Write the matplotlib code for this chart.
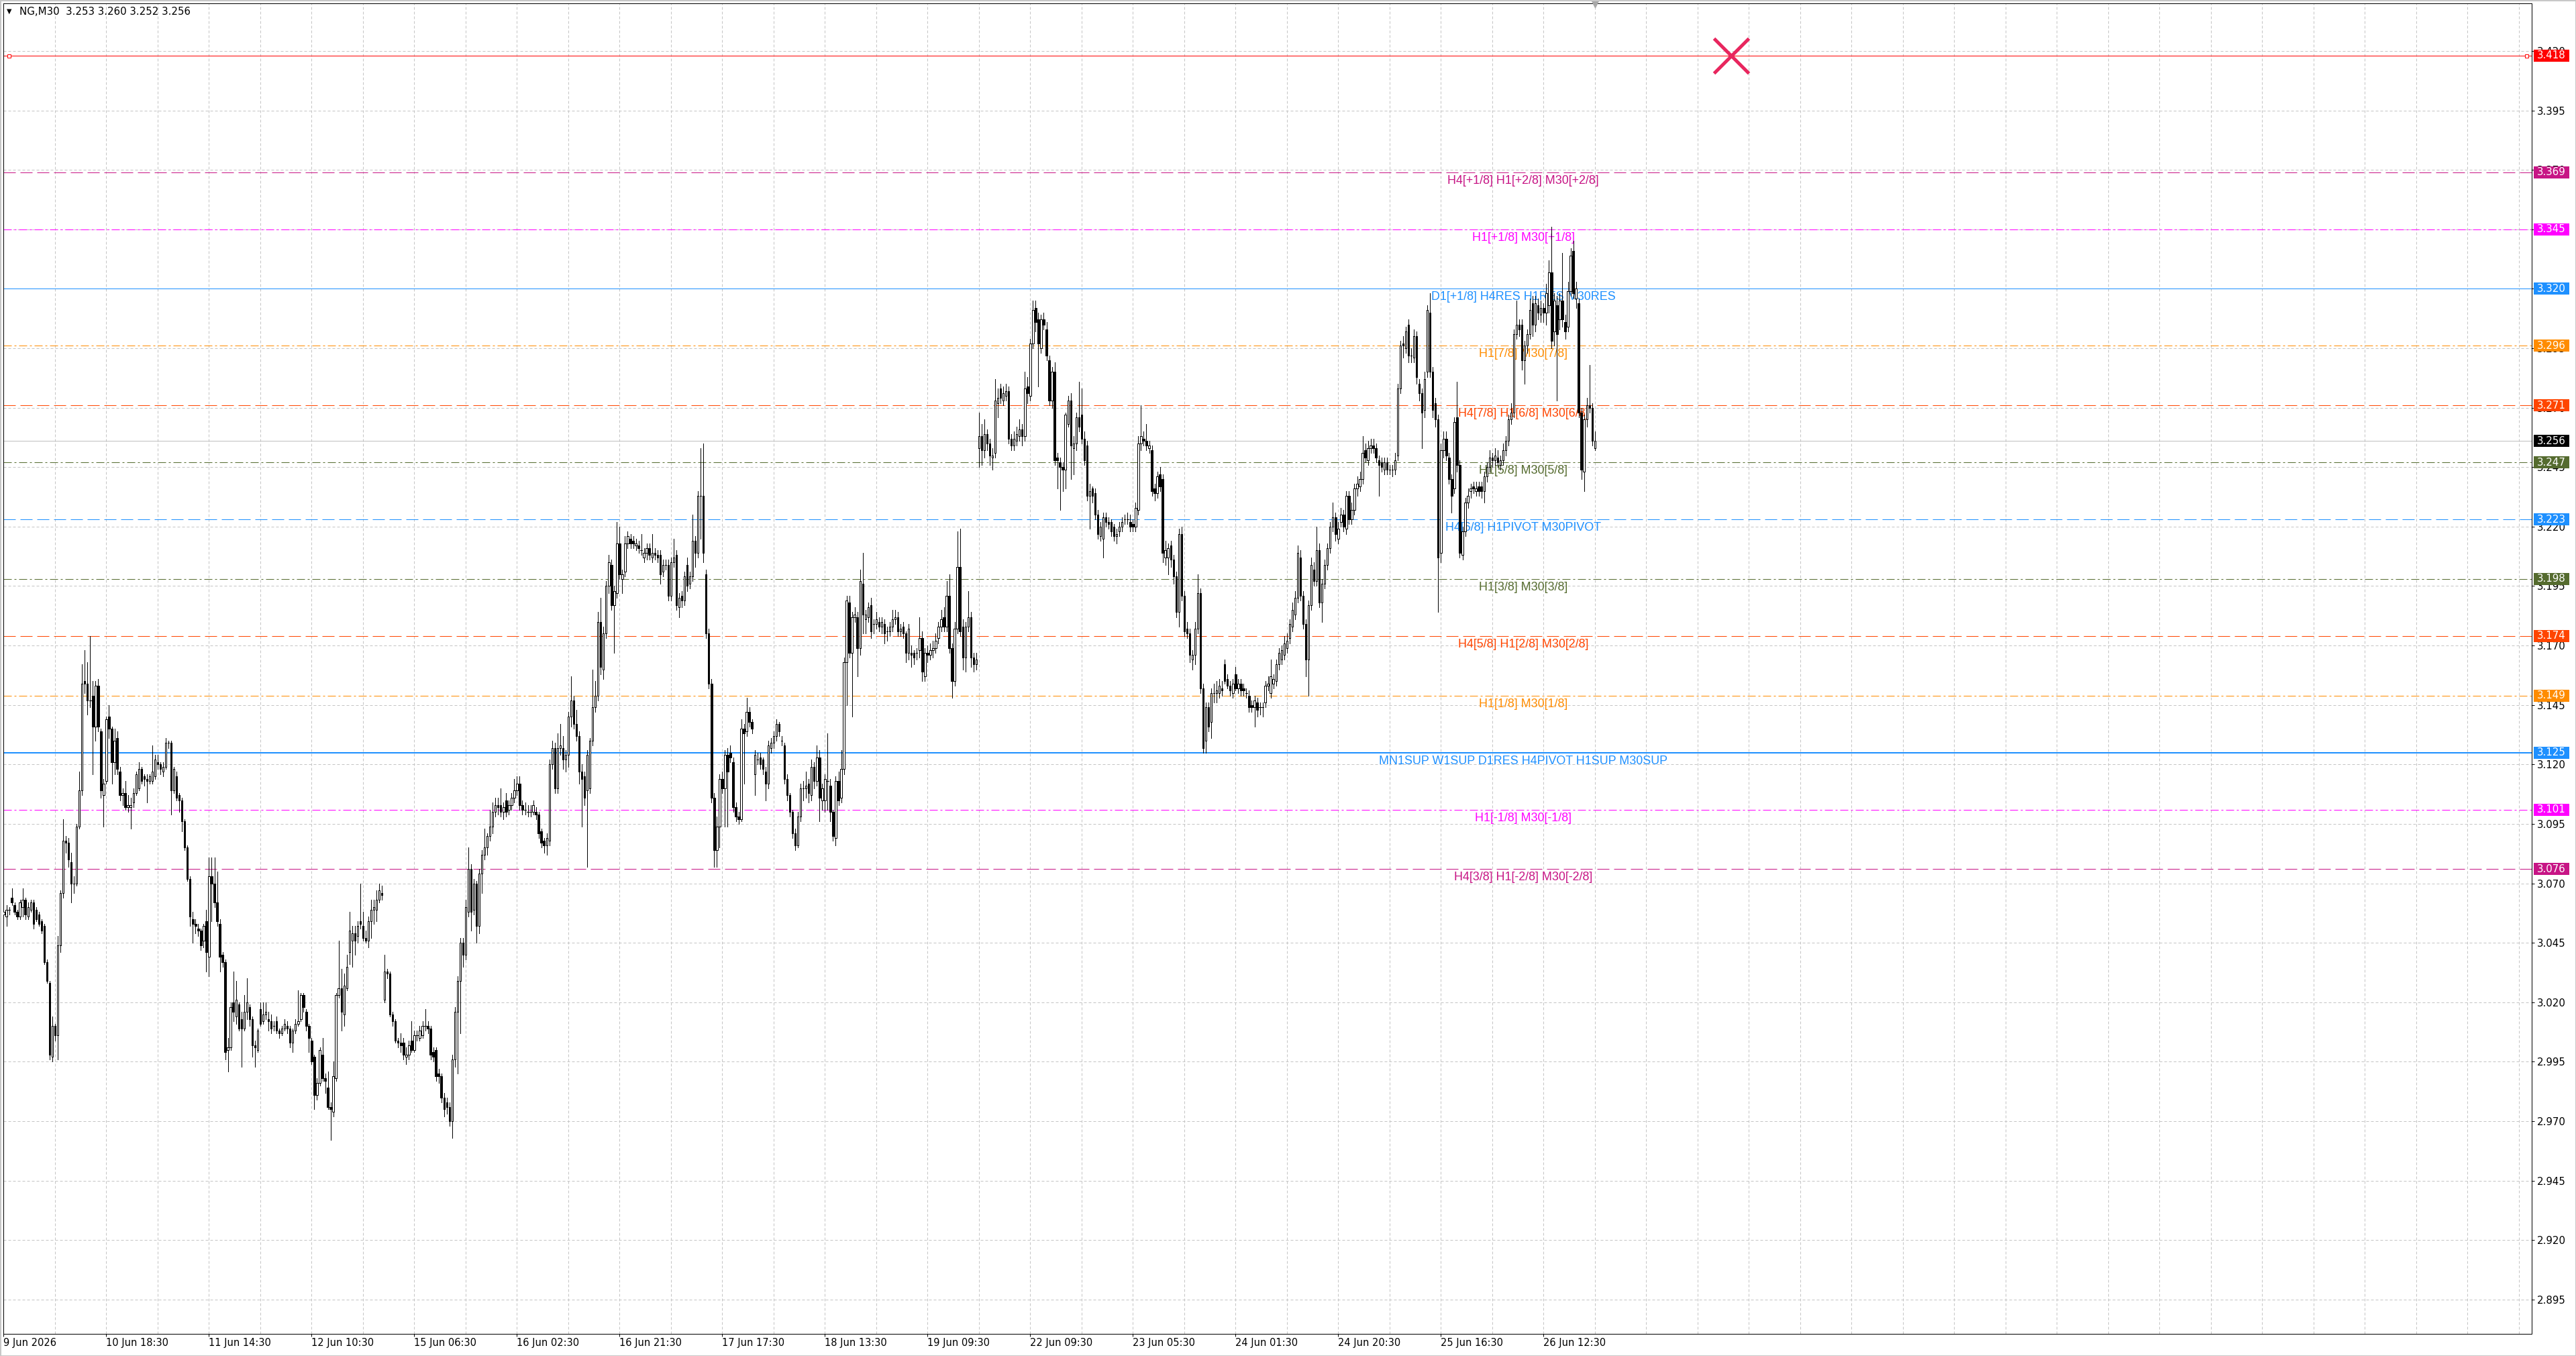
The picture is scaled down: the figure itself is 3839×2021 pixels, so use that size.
import matplotlib
matplotlib.use("Agg")
import matplotlib.pyplot as plt
from matplotlib.patches import Rectangle
from matplotlib.transforms import blended_transform_factory

# NG, M30 candles, prices in thousandths (3057 -> 3.057)
opens = [
    3057, 3056, 3059, 3064, 3061, 3058, 3056, 3060, 3063, 3056,
    3059, 3062, 3059, 3057, 3054, 3052, 3037, 3028, 2997, 3010,
    3006, 3044, 3066, 3088, 3087, 3079, 3070, 3070, 3094, 3109,
    3155, 3154, 3147, 3149, 3136, 3153, 3134, 3107, 3113, 3140,
    3135, 3121, 3131, 3117, 3107, 3108, 3102, 3102, 3104, 3108,
    3110, 3118, 3115, 3114, 3113, 3113, 3115, 3121, 3120, 3117,
    3119, 3129, 3129, 3109, 3115, 3107, 3105, 3096, 3085, 3072,
    3055, 3053, 3051, 3050, 3046, 3054, 3039, 3073, 3070, 3062,
    3053, 3040, 3037, 3000, 3001, 3020, 3014, 3019, 3013, 3009,
    3016, 3018, 3013, 3002, 3000, 3017, 3012, 3015, 3013, 3012,
    3010, 3012, 3008, 3007, 3009, 3010, 3009, 3003, 3008, 3011,
    3013, 3023, 3016, 3010, 3004, 2997, 2981, 2986, 2998, 2988,
    2984, 2976, 2974, 2988, 3023, 3026, 3015, 3026, 3041, 3046,
    3049, 3048, 3054, 3052, 3047, 3046, 3054, 3059, 3059, 3063,
    3066, 3021, 3033, 3032, 3015, 3012, 3004, 3003, 3003, 2997,
    2998, 3004, 3000, 3006, 3005, 3006, 3010, 3010, 3009, 2999,
    3000, 2990, 2989, 2980, 2978, 2976, 2970, 2996, 3016, 3029,
    3045, 3040, 3058, 3076, 3059, 3070, 3052, 3074, 3082, 3085,
    3090, 3094, 3100, 3103, 3103, 3100, 3105, 3101, 3103, 3106,
    3109, 3112, 3103, 3101, 3100, 3100, 3100, 3100, 3099, 3092,
    3088, 3086, 3088, 3120, 3127, 3110, 3127, 3127, 3122, 3124,
    3140, 3147, 3137, 3132, 3117, 3115, 3109, 3110, 3130, 3144,
    3149, 3180, 3160, 3175, 3195, 3204, 3187, 3192, 3213, 3198,
    3201, 3213, 3215, 3214, 3212, 3212, 3210, 3207, 3209, 3211,
    3207, 3209, 3208, 3208, 3201, 3204, 3204, 3191, 3205, 3208,
    3186, 3191, 3189, 3204, 3196, 3199, 3214, 3209, 3233, 3233,
    3200, 3175, 3154, 3106, 3084, 3094, 3114, 3110, 3124, 3125,
    3121, 3102, 3098, 3097, 3135, 3134, 3142, 3138, 3116, 3122,
    3123, 3122, 3117, 3112, 3127, 3129, 3132, 3137, 3130, 3128,
    3114, 3107, 3100, 3091, 3086, 3098, 3110, 3110, 3112, 3107,
    3119, 3113, 3123, 3105, 3105, 3113, 3111, 3100, 3089, 3113,
    3106, 3118, 3163, 3188, 3167, 3182, 3182, 3169, 3196, 3181,
    3182, 3187, 3179, 3179, 3180, 3178, 3179, 3176, 3176, 3178,
    3181, 3182, 3176, 3178, 3175, 3167, 3167, 3167, 3167, 3168,
    3173, 3157, 3167, 3166, 3168, 3169, 3173, 3178, 3182, 3178,
    3191, 3169, 3155, 3177, 3203, 3178, 3165, 3178, 3182, 3165,
    3162, 3253, 3258, 3252, 3259, 3255, 3249, 3251, 3272, 3278,
    3273, 3275, 3277, 3257, 3254, 3256, 3258, 3261, 3258, 3279,
    3275, 3297, 3312, 3307, 3295, 3307, 3303, 3290, 3273, 3285,
    3249, 3247, 3245, 3244, 3263, 3273, 3253, 3255, 3266, 3267,
    3257, 3254, 3233, 3236, 3234, 3225, 3216, 3215, 3224, 3222,
    3222, 3220, 3216, 3218, 3220, 3223, 3223, 3222, 3221, 3220,
    3227, 3255, 3257, 3256, 3253, 3252, 3236, 3234, 3242, 3240,
    3207, 3207, 3212, 3206, 3199, 3184, 3217, 3191, 3177, 3175,
    3164, 3166, 3177, 3192, 3152, 3130, 3144, 3138, 3150, 3150,
    3150, 3152, 3162, 3156, 3153, 3150, 3158, 3152, 3154, 3152,
    3150, 3149, 3145, 3144, 3146, 3144, 3144, 3146, 3153, 3150,
    3154, 3155, 3162, 3164, 3166, 3169, 3173, 3178, 3183, 3190,
    3207, 3191, 3179, 3164, 3187, 3202, 3197, 3210, 3188, 3196,
    3204, 3211, 3220, 3224, 3215, 3222, 3225, 3219, 3233, 3223,
    3227, 3236, 3237, 3240, 3252, 3248, 3253, 3254, 3253, 3248,
    3247, 3244, 3247, 3244, 3244, 3244, 3250, 3278, 3297, 3295,
    3305, 3292, 3291, 3300, 3280, 3276, 3269, 3285, 3310, 3285,
    3272, 3265, 3209, 3252, 3257, 3249, 3240, 3236, 3266, 3246,
    3208, 3218, 3230, 3235, 3237, 3235, 3237, 3237, 3235, 3241,
    3245, 3249, 3248, 3249, 3246, 3248, 3252, 3256, 3265, 3268,
    3301, 3305, 3305, 3290, 3296, 3301, 3314, 3305, 3313, 3309,
    3312, 3310, 3313, 3327, 3302, 3313, 3307, 3315, 3306, 3304,
    3319, 3336, 3316, 3314, 3268, 3243, 3265, 3271, 3270, 3253,
]
highs = [
    3060, 3061, 3060, 3068, 3062, 3059, 3063, 3068, 3064, 3062,
    3063, 3063, 3060, 3058, 3055, 3053, 3038, 3029, 3014, 3011,
    3048, 3067, 3097, 3090, 3089, 3083, 3073, 3095, 3117, 3162,
    3168, 3163, 3174, 3155, 3155, 3156, 3135, 3114, 3140, 3145,
    3136, 3135, 3134, 3119, 3110, 3113, 3107, 3106, 3110, 3117,
    3121, 3119, 3116, 3116, 3116, 3128, 3124, 3124, 3121, 3121,
    3131, 3130, 3130, 3119, 3117, 3108, 3106, 3097, 3086, 3073,
    3058, 3055, 3053, 3051, 3053, 3059, 3081, 3081, 3081, 3075,
    3055, 3041, 3038, 3005, 3020, 3033, 3029, 3020, 3016, 3023,
    3030, 3019, 3014, 3004, 3009, 3020, 3020, 3020, 3016, 3015,
    3012, 3014, 3009, 3010, 3013, 3012, 3010, 3009, 3013, 3025,
    3024, 3024, 3017, 3011, 3005, 2998, 2988, 3001, 3005, 2990,
    2991, 2978, 2995, 3024, 3046, 3034, 3032, 3040, 3058, 3052,
    3052, 3054, 3070, 3058, 3050, 3056, 3063, 3063, 3067, 3070,
    3069, 3040, 3034, 3033, 3016, 3013, 3005, 3007, 3005, 3001,
    3004, 3012, 3008, 3008, 3010, 3012, 3017, 3012, 3010, 3001,
    3001, 2992, 2990, 2982, 2980, 2978, 2998, 3018, 3031, 3047,
    3047, 3063, 3085, 3078, 3072, 3071, 3076, 3084, 3093, 3091,
    3101, 3104, 3106, 3106, 3110, 3104, 3108, 3105, 3108, 3114,
    3115, 3115, 3105, 3104, 3103, 3103, 3105, 3102, 3100, 3093,
    3089, 3091, 3122, 3130, 3129, 3133, 3137, 3132, 3126, 3142,
    3157, 3149, 3143, 3134, 3120, 3117, 3126, 3131, 3160, 3155,
    3184, 3190, 3178, 3197, 3208, 3206, 3195, 3222, 3220, 3202,
    3216, 3218, 3217, 3216, 3215, 3214, 3217, 3211, 3213, 3213,
    3217, 3211, 3210, 3210, 3206, 3206, 3206, 3207, 3215, 3210,
    3192, 3193, 3201, 3207, 3201, 3225, 3216, 3235, 3253, 3255,
    3202, 3177, 3156, 3108, 3098, 3116, 3117, 3126, 3127, 3128,
    3123, 3104, 3100, 3139, 3137, 3148, 3144, 3139, 3126, 3125,
    3125, 3123, 3119, 3130, 3131, 3134, 3139, 3138, 3132, 3129,
    3116, 3108, 3101, 3093, 3100, 3112, 3113, 3117, 3114, 3122,
    3121, 3128, 3126, 3112, 3116, 3133, 3114, 3101, 3115, 3117,
    3126, 3165, 3191, 3191, 3184, 3186, 3184, 3202, 3209, 3185,
    3188, 3190, 3181, 3184, 3182, 3182, 3181, 3178, 3180, 3185,
    3185, 3184, 3179, 3180, 3176, 3179, 3170, 3168, 3169, 3182,
    3176, 3169, 3170, 3171, 3172, 3175, 3180, 3185, 3186, 3197,
    3200, 3171, 3180, 3218, 3219, 3181, 3180, 3193, 3184, 3167,
    3167, 3268, 3263, 3265, 3261, 3257, 3253, 3282, 3278, 3280,
    3279, 3280, 3279, 3259, 3260, 3262, 3265, 3263, 3285, 3283,
    3299, 3315, 3315, 3310, 3309, 3310, 3306, 3292, 3287, 3289,
    3251, 3249, 3247, 3268, 3275, 3276, 3258, 3268, 3281, 3278,
    3260, 3256, 3238, 3237, 3236, 3227, 3222, 3226, 3226, 3224,
    3223, 3221, 3219, 3222, 3224, 3225, 3226, 3225, 3223, 3230,
    3258, 3271, 3260, 3263, 3256, 3254, 3238, 3243, 3245, 3242,
    3214, 3213, 3214, 3208, 3201, 3219, 3220, 3193, 3180, 3177,
    3168, 3180, 3200, 3194, 3154, 3146, 3146, 3152, 3154, 3155,
    3156, 3155, 3164, 3158, 3155, 3156, 3161, 3156, 3156, 3154,
    3152, 3151, 3147, 3149, 3148, 3146, 3146, 3155, 3157, 3164,
    3158, 3164, 3169, 3170, 3174, 3175, 3181, 3188, 3193, 3212,
    3210, 3193, 3181, 3189, 3207, 3205, 3220, 3213, 3198, 3206,
    3213, 3222, 3230, 3226, 3222, 3228, 3227, 3235, 3235, 3230,
    3238, 3241, 3243, 3258, 3255, 3256, 3257, 3257, 3255, 3250,
    3249, 3249, 3249, 3246, 3246, 3251, 3280, 3298, 3300, 3304,
    3307, 3295, 3303, 3302, 3282, 3278, 3285, 3313, 3318, 3287,
    3274, 3267, 3255, 3260, 3260, 3251, 3242, 3266, 3281, 3248,
    3220, 3232, 3236, 3238, 3239, 3239, 3239, 3239, 3243, 3247,
    3252, 3251, 3253, 3252, 3250, 3255, 3258, 3267, 3272, 3303,
    3315, 3307, 3307, 3298, 3303, 3316, 3317, 3317, 3316, 3315,
    3314, 3322, 3332, 3346, 3318, 3317, 3318, 3335, 3309, 3323,
    3337, 3340, 3323, 3316, 3270, 3267, 3274, 3288, 3272, 3260,
]
lows = [
    3054, 3052, 3057, 3061, 3057, 3055, 3055, 3056, 3055, 3055,
    3058, 3051, 3054, 3052, 3049, 3036, 3028, 2996, 2995, 3004,
    2996, 3041, 3064, 3083, 3077, 3062, 3066, 3069, 3093, 3107,
    3150, 3141, 3144, 3116, 3130, 3134, 3106, 3094, 3112, 3131,
    3112, 3116, 3116, 3105, 3103, 3101, 3100, 3093, 3102, 3107,
    3109, 3112, 3111, 3104, 3112, 3112, 3114, 3118, 3116, 3115,
    3118, 3127, 3099, 3108, 3105, 3100, 3092, 3084, 3071, 3052,
    3045, 3049, 3048, 3042, 3043, 3033, 3031, 3054, 3060, 3052,
    3033, 3035, 2996, 2991, 3000, 3012, 3011, 3008, 2993, 3008,
    3013, 3010, 2997, 2993, 2999, 3010, 3011, 3013, 3008, 3007,
    3008, 3007, 3005, 3006, 3008, 3007, 3001, 2999, 3007, 3010,
    3012, 3016, 3008, 2999, 2994, 2975, 2979, 2985, 2987, 2982,
    2975, 2962, 2972, 2987, 3022, 3008, 3010, 3025, 3036, 3035,
    3040, 3045, 3051, 3046, 3045, 3043, 3047, 3053, 3054, 3062,
    3063, 3020, 3030, 3014, 3010, 3003, 3001, 2999, 2996, 2994,
    2996, 2999, 2999, 3004, 3004, 3005, 3008, 3007, 2996, 2995,
    2987, 2986, 2978, 2972, 2973, 2968, 2963, 2993, 2990, 3007,
    3035, 3038, 3056, 3050, 3057, 3045, 3049, 3066, 3080, 3082,
    3088, 3091, 3098, 3099, 3098, 3097, 3098, 3099, 3101, 3104,
    3107, 3101, 3099, 3099, 3098, 3098, 3099, 3097, 3089, 3085,
    3083, 3082, 3086, 3118, 3108, 3108, 3124, 3118, 3117, 3119,
    3136, 3135, 3130, 3112, 3094, 3103, 3077, 3108, 3128, 3142,
    3147, 3158, 3156, 3173, 3192, 3185, 3167, 3190, 3198, 3192,
    3199, 3211, 3211, 3211, 3210, 3209, 3208, 3205, 3206, 3206,
    3205, 3206, 3205, 3196, 3199, 3202, 3189, 3189, 3203, 3185,
    3182, 3186, 3187, 3193, 3194, 3197, 3203, 3207, 3215, 3205,
    3173, 3152, 3104, 3077, 3077, 3085, 3108, 3094, 3094, 3121,
    3100, 3096, 3095, 3096, 3112, 3132, 3136, 3133, 3107, 3120,
    3118, 3116, 3105, 3110, 3125, 3127, 3130, 3132, 3128, 3112,
    3105, 3098, 3089, 3084, 3085, 3096, 3105, 3106, 3104, 3105,
    3110, 3111, 3096, 3101, 3100, 3101, 3096, 3088, 3086, 3103,
    3104, 3116, 3145, 3165, 3140, 3180, 3157, 3166, 3175, 3175,
    3180, 3173, 3175, 3177, 3176, 3175, 3171, 3172, 3174, 3176,
    3179, 3174, 3174, 3173, 3163, 3164, 3161, 3162, 3164, 3165,
    3155, 3155, 3163, 3164, 3165, 3167, 3171, 3176, 3176, 3176,
    3167, 3148, 3153, 3175, 3174, 3160, 3159, 3176, 3161, 3159,
    3160, 3245, 3246, 3249, 3252, 3246, 3244, 3249, 3266, 3272,
    3271, 3273, 3255, 3252, 3252, 3254, 3256, 3254, 3256, 3272,
    3273, 3295, 3302, 3279, 3293, 3303, 3290, 3271, 3270, 3246,
    3236, 3227, 3235, 3236, 3262, 3240, 3242, 3252, 3260, 3255,
    3246, 3231, 3219, 3230, 3223, 3215, 3214, 3207, 3220, 3219,
    3216, 3214, 3213, 3216, 3218, 3221, 3221, 3218, 3218, 3218,
    3225, 3252, 3254, 3252, 3251, 3233, 3231, 3232, 3235, 3205,
    3204, 3200, 3203, 3196, 3182, 3178, 3189, 3174, 3173, 3163,
    3160, 3162, 3175, 3150, 3125, 3125, 3134, 3131, 3146, 3146,
    3148, 3149, 3154, 3152, 3149, 3148, 3151, 3150, 3149, 3149,
    3148, 3142, 3142, 3136, 3140, 3141, 3140, 3144, 3151, 3148,
    3152, 3153, 3160, 3162, 3164, 3167, 3171, 3176, 3181, 3188,
    3189, 3177, 3157, 3149, 3185, 3195, 3195, 3186, 3180, 3194,
    3202, 3209, 3218, 3214, 3213, 3220, 3218, 3217, 3221, 3221,
    3225, 3233, 3235, 3238, 3247, 3246, 3251, 3251, 3247, 3233,
    3243, 3242, 3242, 3242, 3241, 3242, 3248, 3276, 3291, 3293,
    3289, 3289, 3289, 3280, 3273, 3253, 3266, 3283, 3283, 3266,
    3262, 3184, 3205, 3249, 3248, 3238, 3226, 3234, 3243, 3207,
    3206, 3216, 3228, 3232, 3234, 3233, 3233, 3232, 3230, 3239,
    3243, 3245, 3246, 3245, 3244, 3246, 3250, 3254, 3263, 3266,
    3299, 3300, 3286, 3280, 3293, 3299, 3300, 3302, 3307, 3306,
    3306, 3305, 3310, 3295, 3296, 3273, 3303, 3304, 3299, 3302,
    3317, 3316, 3312, 3266, 3240, 3235, 3262, 3268, 3254, 3252,
]
closes = [
    3058, 3059, 3059, 3062, 3058, 3056, 3062, 3063, 3057, 3060,
    3062, 3053, 3055, 3053, 3050, 3037, 3029, 2998, 3010, 3006,
    3044, 3066, 3088, 3087, 3080, 3070, 3070, 3094, 3109, 3154,
    3154, 3147, 3147, 3136, 3153, 3136, 3109, 3112, 3139, 3135,
    3121, 3130, 3118, 3107, 3108, 3102, 3103, 3103, 3108, 3116,
    3118, 3113, 3114, 3113, 3115, 3117, 3122, 3120, 3118, 3119,
    3129, 3129, 3109, 3118, 3106, 3105, 3096, 3085, 3072, 3056,
    3053, 3052, 3050, 3044, 3052, 3041, 3073, 3070, 3062, 3054,
    3039, 3037, 2999, 3001, 3018, 3016, 3021, 3009, 3009, 3016,
    3020, 3013, 3002, 3001, 3008, 3011, 3015, 3016, 3012, 3009,
    3010, 3008, 3007, 3009, 3011, 3009, 3003, 3008, 3011, 3012,
    3023, 3018, 3010, 3005, 2995, 2981, 2986, 3000, 2988, 2987,
    2976, 2975, 2989, 3023, 3026, 3016, 3027, 3035, 3050, 3049,
    3046, 3052, 3053, 3047, 3046, 3054, 3059, 3060, 3063, 3067,
    3065, 3033, 3032, 3015, 3012, 3004, 3003, 3002, 2998, 2998,
    3002, 3000, 3006, 3006, 3008, 3010, 3010, 3009, 2998, 2997,
    2989, 2989, 2980, 2975, 2976, 2970, 2996, 3016, 3029, 3045,
    3040, 3060, 3076, 3058, 3070, 3052, 3074, 3082, 3085, 3090,
    3094, 3100, 3103, 3102, 3100, 3102, 3100, 3103, 3106, 3109,
    3112, 3103, 3101, 3101, 3100, 3100, 3103, 3099, 3091, 3087,
    3086, 3089, 3120, 3127, 3110, 3127, 3128, 3122, 3124, 3140,
    3147, 3137, 3132, 3117, 3114, 3106, 3124, 3130, 3144, 3149,
    3180, 3161, 3175, 3195, 3205, 3187, 3193, 3213, 3200, 3200,
    3213, 3216, 3213, 3213, 3213, 3211, 3210, 3209, 3211, 3208,
    3209, 3208, 3207, 3200, 3204, 3204, 3191, 3205, 3207, 3187,
    3190, 3189, 3199, 3195, 3199, 3214, 3209, 3233, 3233, 3209,
    3175, 3154, 3106, 3084, 3094, 3114, 3110, 3124, 3117, 3123,
    3102, 3098, 3097, 3135, 3133, 3142, 3138, 3135, 3124, 3122,
    3120, 3118, 3112, 3128, 3129, 3132, 3137, 3134, 3130, 3114,
    3107, 3100, 3091, 3086, 3098, 3110, 3110, 3111, 3108, 3119,
    3113, 3123, 3106, 3110, 3114, 3113, 3100, 3090, 3113, 3105,
    3118, 3163, 3189, 3167, 3182, 3183, 3169, 3197, 3183, 3183,
    3186, 3176, 3179, 3181, 3178, 3180, 3175, 3176, 3178, 3181,
    3182, 3176, 3177, 3175, 3167, 3177, 3166, 3165, 3167, 3173,
    3159, 3167, 3166, 3168, 3169, 3172, 3178, 3181, 3178, 3191,
    3169, 3155, 3177, 3203, 3176, 3165, 3178, 3182, 3165, 3162,
    3164, 3258, 3252, 3259, 3255, 3250, 3250, 3273, 3274, 3274,
    3276, 3277, 3257, 3254, 3257, 3259, 3261, 3258, 3278, 3276,
    3297, 3311, 3306, 3297, 3307, 3305, 3292, 3273, 3285, 3248,
    3248, 3245, 3244, 3267, 3273, 3254, 3255, 3266, 3262, 3257,
    3248, 3233, 3235, 3233, 3225, 3217, 3220, 3224, 3222, 3221,
    3218, 3216, 3217, 3220, 3222, 3223, 3223, 3220, 3220, 3228,
    3255, 3258, 3256, 3254, 3254, 3235, 3234, 3241, 3237, 3209,
    3210, 3211, 3206, 3199, 3184, 3217, 3191, 3176, 3175, 3166,
    3166, 3177, 3192, 3152, 3127, 3144, 3136, 3150, 3150, 3151,
    3153, 3151, 3155, 3153, 3151, 3154, 3152, 3154, 3151, 3151,
    3150, 3144, 3144, 3147, 3143, 3144, 3144, 3153, 3154, 3157,
    3156, 3162, 3167, 3168, 3171, 3172, 3179, 3185, 3190, 3209,
    3191, 3179, 3164, 3187, 3204, 3197, 3210, 3188, 3196, 3204,
    3211, 3220, 3224, 3217, 3219, 3225, 3220, 3233, 3223, 3227,
    3236, 3238, 3240, 3251, 3249, 3253, 3254, 3253, 3249, 3246,
    3245, 3247, 3244, 3244, 3244, 3248, 3278, 3296, 3296, 3302,
    3292, 3292, 3300, 3283, 3276, 3268, 3282, 3311, 3285, 3269,
    3265, 3207, 3252, 3257, 3250, 3240, 3233, 3264, 3246, 3209,
    3218, 3230, 3233, 3236, 3236, 3236, 3235, 3235, 3241, 3245,
    3249, 3248, 3250, 3247, 3248, 3252, 3256, 3265, 3268, 3301,
    3305, 3303, 3290, 3296, 3301, 3311, 3305, 3314, 3310, 3312,
    3310, 3318, 3327, 3298, 3315, 3301, 3315, 3307, 3302, 3319,
    3334, 3318, 3320, 3268, 3244, 3265, 3271, 3270, 3256, 3256,
]

time_labels = ['9 Jun 2026', '10 Jun 18:30', '11 Jun 14:30', '12 Jun 10:30',
               '15 Jun 06:30', '16 Jun 02:30', '16 Jun 21:30', '17 Jun 17:30',
               '18 Jun 13:30', '19 Jun 09:30', '22 Jun 09:30', '23 Jun 05:30',
               '24 Jun 01:30', '24 Jun 20:30', '25 Jun 16:30', '26 Jun 12:30']
bars_per_label = 38

level_prices = [3.369, 3.345, 3.320, 3.296, 3.271, 3.247, 3.223,
                3.198, 3.174, 3.149, 3.125, 3.101, 3.076]
level_names = ['H4[+1/8] H1[+2/8] M30[+2/8]',
               'H1[+1/8] M30[+1/8]',
               'D1[+1/8] H4RES H1RES M30RES',
               'H1[7/8] M30[7/8]',
               'H4[7/8] H1[6/8] M30[6/8]',
               'H1[5/8] M30[5/8]',
               'H4[6/8] H1PIVOT M30PIVOT',
               'H1[3/8] M30[3/8]',
               'H4[5/8] H1[2/8] M30[2/8]',
               'H1[1/8] M30[1/8]',
               'MN1SUP W1SUP D1RES H4PIVOT H1SUP M30SUP',
               'H1[-1/8] M30[-1/8]',
               'H4[3/8] H1[-2/8] M30[-2/8]']
level_colors = ['#C71585', '#FF00FF', '#1E90FF', '#FF8C00', '#FF4500', '#556B2F', '#1E90FF',
                '#556B2F', '#FF4500', '#FF8C00', '#1E90FF', '#FF00FF', '#C71585']
level_kinds = ['dash', 'dashdot', 'solid', 'dashdot', 'dash', 'dashdot', 'dash',
               'dashdot', 'dash', 'dashdot', 'thick', 'dashdot', 'dash']

alarm_price = 3.418
last_price = 3.256
header = 'NG,M30  3.253 3.260 3.252 3.256'

W, H = 3839, 2021
PX = 0.72  # one pixel in points at 100 dpi

fig = plt.figure(figsize=(W / 100, H / 100), dpi=100)
fig.patch.set_facecolor('white')
ax = fig.add_axes([5 / W, 33 / H, 3768 / W, 1983 / H])
ax.set_facecolor('white')
x_max = -0.12 + 3768 / 4.026
ax.set_xlim(-0.12, x_max)
ax.set_ylim(2.8806, 3.4400)

# grid
grid_style = dict(color='#C4C4C4', lw=PX, ls=(0, (4, 3)), zorder=1)
y_ticks = [round(2.895 + 0.025 * k, 3) for k in range(22)]
for xg in range(0, int(x_max) + 1, bars_per_label // 2):
    ax.axvline(xg, **grid_style)
for yg in y_ticks:
    ax.axhline(yg, **grid_style)

# price levels
styles = {'dash': (0, (18, 7)), 'dashdot': (0, (12, 4, 3, 4)), 'solid': '-', 'thick': '-'}
for p, name, c, kind in zip(level_prices, level_names, level_colors, level_kinds):
    lw = 2.0 * PX if kind == 'thick' else PX
    ax.axhline(p, color=c, lw=lw, ls=styles[kind], zorder=2)
    ax.annotate(name, xy=(562.5, p), xytext=(0, -4), textcoords='offset pixels',
                ha='center', va='top', color=c, fontsize=12.9,
                family='Liberation Sans', zorder=2)

ax.axhline(last_price, color='#C0C0C0', lw=PX, zorder=2)
ax.axhline(alarm_price, color='#FF0000', lw=PX, zorder=2)
ax.plot([0.002, 0.998], [alarm_price, alarm_price], transform=ax.get_yaxis_transform(),
        ls='none', marker='s', ms=3.6, mfc='white', mec='#FF0000', mew=PX, zorder=5,
        clip_on=False)

# candles
n = len(closes)
xs = list(range(n))
o = [v / 1000 for v in opens]
h = [v / 1000 for v in highs]
l = [v / 1000 for v in lows]
c = [v / 1000 for v in closes]
ax.vlines(xs, l, h, color='black', lw=PX, zorder=3, antialiased=False)
bottoms = [min(a, b) for a, b in zip(o, c)]
heights = [abs(b - a) for a, b in zip(o, c)]
fills = ['white' if b >= a else 'black' for a, b in zip(o, c)]
ax.bar(xs, heights, bottom=bottoms, width=0.6, color=fills, edgecolor='black',
       linewidth=PX, zorder=4, antialiased=False)

# alarm cross and chart shift marker
ax.plot(639.5, alarm_price, marker='x', ms=37, mew=3.6, color='#E8265E', zorder=7)
ax.plot(n - 1, 3.4400, marker='v', ms=8, color='#A8A8A8', zorder=7, clip_on=False)

# axes styling
for s in ax.spines.values():
    s.set_color('black')
    s.set_linewidth(PX)
ax.yaxis.tick_right()
ax.set_yticks(y_ticks)
ax.set_yticklabels(['%.3f' % v for v in y_ticks])
ax.tick_params(axis='y', length=2.9, width=PX, pad=2.9, labelsize=10.8, colors='black')
ax.set_xticks([bars_per_label * k for k in range(len(time_labels))])
ax.set_xticklabels(time_labels, ha='left')
ax.tick_params(axis='x', length=2.9, width=PX, pad=1.5, labelsize=10.5, colors='black')

# price tags on the right scale
tag_tr = blended_transform_factory(fig.transFigure, ax.transData)
half = 9 / 3545
tags = list(zip(level_prices, level_colors)) + [(alarm_price, '#FF0000'), (last_price, '#000000')]
for p, col in tags:
    ax.add_patch(Rectangle((3776 / W, p - half), 53 / W, 2 * half, transform=tag_tr,
                           facecolor=col, edgecolor='none', clip_on=False, zorder=8))
    ax.text(3802.5 / W, p, '%.3f' % p, transform=tag_tr, ha='center', va='center',
            color='white', fontsize=10.8, zorder=9, clip_on=False)

# header
fig.text(10 / W, 1 - 17 / H, '\u25bc', fontsize=7, va='center', ha='left')
fig.text(29 / W, 1 - 17 / H, header, fontsize=10.8, va='center', ha='left')

# window border
fig.add_artist(Rectangle((0, 0), 1, 1, transform=fig.transFigure, fill=False,
                         edgecolor='#C8C8C8', lw=2.2))

fig.savefig('out.png', dpi=100)
